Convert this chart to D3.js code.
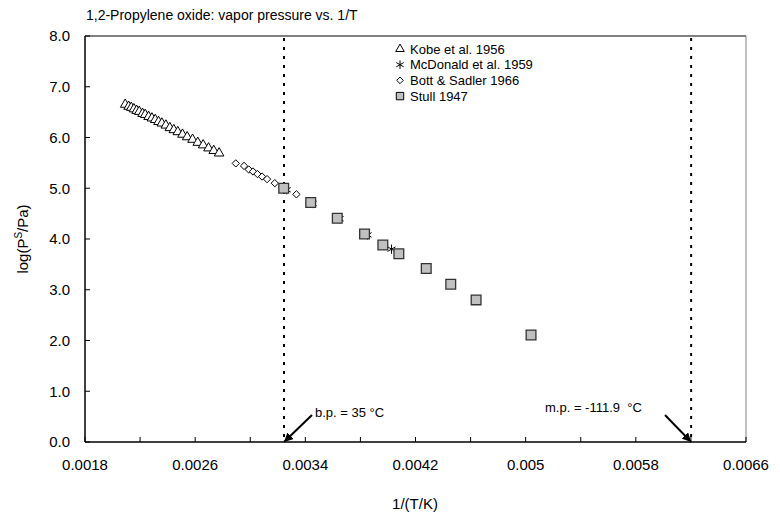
<!DOCTYPE html>
<html>
<head>
<meta charset="utf-8">
<script src="https://cdn.jsdelivr.net/npm/d3@7"></script>
<style>
  body { margin: 0; background: #fff; }
  svg { font-family: "Liberation Sans", Arial, Helvetica, sans-serif; }
</style>
</head>
<body>
<svg width="780" height="518"></svg>
<script>
let width = 780, height = 518;

// Kobe et al. 1956 (triangles)
const kobeX = [0.002092, 0.002117, 0.002136, 0.002155, 0.002175, 0.002194, 0.002218, 0.002237, 0.002262,
  0.002286, 0.002310, 0.002334, 0.002358, 0.002387, 0.002416, 0.002445, 0.002474, 0.002508, 0.002542,
  0.002581, 0.002619, 0.002658, 0.002697, 0.002735, 0.002774];
const kobeY = [6.65, 6.61, 6.59, 6.56, 6.53, 6.51, 6.47, 6.45, 6.41, 6.38, 6.35, 6.31, 6.28, 6.24, 6.19,
  6.15, 6.11, 6.06, 6.01, 5.96, 5.90, 5.85, 5.79, 5.74, 5.69];
// McDonald et al. 1959 (asterisks)
const mcdX = [0.003265, 0.003453, 0.003649, 0.003852, 0.004026];
const mcdY = [4.97, 4.70, 4.40, 4.08, 3.80];
// Bott & Sadler 1966 (diamonds)
const bottX = [0.002895, 0.002955, 0.002989, 0.003020, 0.003052, 0.003086, 0.003122, 0.003178, 0.003238, 0.003335];
const bottY = [5.49, 5.44, 5.37, 5.33, 5.28, 5.23, 5.18, 5.10, 5.02, 4.88];
// Stull 1947 (squares)
const stullX = [0.003243, 0.003439, 0.003632, 0.003830, 0.003963, 0.004079, 0.004278, 0.004456, 0.004640, 0.005039];
const stullY = [5.00, 4.72, 4.41, 4.10, 3.88, 3.71, 3.42, 3.11, 2.80, 2.11];

const xTicks = [0.0018, 0.0026, 0.0034, 0.0042, 0.005, 0.0058, 0.0066];
const xTickLabels = ["0.0018", "0.0026", "0.0034", "0.0042", "0.005", "0.0058", "0.0066"];
const xMinorTicks = [0.0022, 0.0030, 0.0038, 0.0046, 0.0054, 0.0062];
const yTicks = [0, 1, 2, 3, 4, 5, 6, 7, 8];

const bpX = 1 / (35 + 273.15);
const mpX = 1 / (-111.9 + 273.15);

let svg = d3.select("svg");

let x = d3.scaleLinear().domain([0.0018, 0.0066]).range([85, 746]);
let y = d3.scaleLinear().domain([0, 8]).range([442, 36]);

// frame (top/right in grey)
svg.append("line").attr("x1", 85).attr("x2", 746).attr("y1", 36).attr("y2", 36)
  .attr("stroke", "#808080").attr("stroke-width", 2);
svg.append("line").attr("x1", 746).attr("x2", 746).attr("y1", 36).attr("y2", 442)
  .attr("stroke", "#808080").attr("stroke-width", 1);

// axes
let xAxis = svg.append("g").attr("transform", "translate(0,442)");
xAxis.append("line").attr("x1", 85).attr("x2", 746).attr("stroke", "#000").attr("stroke-width", 1.5);
xAxis.selectAll(".tick").data(xTicks.concat(xMinorTicks)).enter().append("line")
  .attr("x1", d => x(d)).attr("x2", d => x(d)).attr("y1", 0).attr("y2", -5)
  .attr("stroke", "#000").attr("stroke-width", 1);
xAxis.selectAll(".lab").data(xTicks).enter().append("text")
  .attr("x", d => x(d)).attr("y", 28)
  .attr("text-anchor", "middle").style("font-size", "15px")
  .text((d, i) => xTickLabels[i]);

let yAxis = svg.append("g").attr("transform", "translate(85,0)");
yAxis.append("line").attr("y1", 36).attr("y2", 442).attr("stroke", "#000").attr("stroke-width", 1.5);
yAxis.selectAll(".tick").data(yTicks).enter().append("line")
  .attr("y1", d => y(d)).attr("y2", d => y(d)).attr("x1", 0).attr("x2", 5)
  .attr("stroke", "#000").attr("stroke-width", 1);
yAxis.selectAll(".lab").data(yTicks).enter().append("text")
  .attr("x", -15).attr("y", d => y(d)).attr("dy", "0.35em")
  .attr("text-anchor", "end").style("font-size", "15px")
  .text(d => d3.format(".1f")(d));

// titles
svg.append("text").attr("x", 86).attr("y", 20).style("font-size", "14px")
  .text("1,2-Propylene oxide: vapor pressure vs. 1/T");
svg.append("text").attr("x", 415).attr("y", 509).attr("text-anchor", "middle")
  .style("font-size", "15px").text("1/(T/K)");
let yl = svg.append("text").attr("transform", "translate(28,239) rotate(-90)")
  .attr("text-anchor", "middle").style("font-size", "15px");
yl.append("tspan").text("log(P");
yl.append("tspan").attr("dy", -6).style("font-size", "10px").text("S");
yl.append("tspan").attr("dy", 6).text("/Pa)");

// b.p. and m.p. dotted lines
svg.selectAll(".vline").data([bpX, mpX]).enter().append("line")
  .attr("x1", d => x(d)).attr("x2", d => x(d)).attr("y1", 38).attr("y2", 442)
  .attr("stroke", "#000").attr("stroke-width", 2).attr("stroke-dasharray", "3,6");

// arrows
svg.append("defs").append("marker").attr("id", "arr")
  .attr("viewBox", "0 0 10 10").attr("refX", 10).attr("refY", 5)
  .attr("markerWidth", 9).attr("markerHeight", 9).attr("markerUnits", "userSpaceOnUse")
  .attr("orient", "auto")
  .append("path").attr("d", "M0,0L10,5L0,10Z").attr("fill", "#000");

svg.append("line").attr("x1", 312).attr("y1", 415).attr("x2", x(bpX)).attr("y2", 442)
  .attr("stroke", "#000").attr("stroke-width", 2).attr("marker-end", "url(#arr)");
svg.append("text").attr("x", 315).attr("y", 417).style("font-size", "13px").text("b.p. = 35 °C");

svg.append("line").attr("x1", 665).attr("y1", 415).attr("x2", x(mpX)).attr("y2", 442)
  .attr("stroke", "#000").attr("stroke-width", 2).attr("marker-end", "url(#arr)");
svg.append("text").attr("x", 545).attr("y", 412).style("font-size", "13px")
  .style("white-space", "pre").text("m.p. = -111.9  °C");

// data series
function plot(xs, ys, type, size, fill, stroke, sw) {
  svg.append("g").selectAll("path").data(xs).enter().append("path")
    .attr("transform", (d, i) => "translate(" + x(d) + "," + y(ys[i]) + ")")
    .attr("d", d3.symbol().type(type).size(size))
    .attr("fill", fill).attr("stroke", stroke).attr("stroke-width", sw);
}
plot(kobeX, kobeY, d3.symbolTriangle, 40, "#fff", "#000", 1);
plot(mcdX, mcdY, d3.symbolAsterisk, 60, "none", "#000", 1);
plot(bottX, bottY, d3.symbolDiamond2, 34, "#fff", "#000", 1);
plot(stullX, stullY, d3.symbolSquare, 95, "#c0c0c0", "#333", 1.3);

// legend
const legendItems = [
  { name: "Kobe et al. 1956", type: d3.symbolTriangle, size: 32, fill: "#fff" },
  { name: "McDonald et al. 1959", type: d3.symbolAsterisk, size: 50, fill: "none" },
  { name: "Bott & Sadler 1966", type: d3.symbolDiamond2, size: 28, fill: "#fff" },
  { name: "Stull 1947", type: d3.symbolSquare, size: 55, fill: "#c0c0c0" }
];
let legend = svg.append("g").attr("transform", "translate(400,49)");
let li = legend.selectAll("g").data(legendItems).enter().append("g")
  .attr("transform", (d, i) => "translate(0," + (i * 15.7) + ")");
li.append("path").attr("d", d => d3.symbol().type(d.type).size(d.size)())
  .attr("fill", d => d.fill).attr("stroke", "#000").attr("stroke-width", 1);
li.append("text").attr("x", 10).attr("dy", "0.35em").style("font-size", "13px").text(d => d.name);
</script>
</body>
</html>
